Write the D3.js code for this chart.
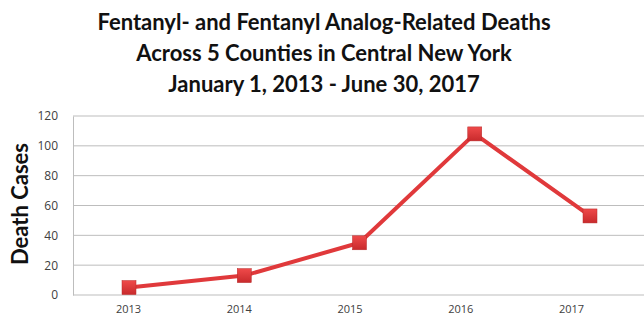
<!DOCTYPE html>
<html>
<head>
<meta charset="utf-8">
<script src="https://cdn.jsdelivr.net/npm/d3@7"></script>
<style>
  body { margin: 0; background: #fff; }
  svg { display: block; }
  .title { font-family: Lato, "Open Sans", sans-serif; font-weight: 700; fill: #111; }
  .tick text { font-family: "Open Sans", Lato, sans-serif; fill: #404040; }
</style>
</head>
<body>
<div id="chart"></div>
<script>
const years = ['2013', '2014', '2015', '2016', '2017'];
const deaths = [5, 13, 35, 108, 53];
const yTicks = [0, 20, 40, 60, 80, 100, 120];
const titleLines = [
    'Fentanyl- and Fentanyl Analog-Related Deaths',
    'Across 5 Counties in Central New York',
    'January 1, 2013 - June 30, 2017'
];

const width = 644;
const height = 317;

const svg = d3.select('#chart')
    .append('svg')
    .attr('width', width)
    .attr('height', height);

// marks and labels were stretched a bit differently in the source picture
const xScale = d3.scalePoint().domain(years).range([129, 590]);
const xLabel = d3.scalePoint().domain(years).range([128, 571]);
const yScale = d3.scaleLinear().domain([0, 120]).range([295, 116]);

// title
const titleY = [30, 61, 92];
svg.selectAll('text.title')
    .data(titleLines)
    .enter()
    .append('text')
    .attr('class', 'title')
    .attr('x', 324)
    .attr('y', (d, i) => titleY[i])
    .attr('text-anchor', 'middle')
    .style('font-size', '22px')
    .text(d => d);

// gridlines
svg.append('g')
    .selectAll('line')
    .data(yTicks)
    .enter()
    .append('line')
    .attr('x1', 73)
    .attr('x2', width)
    .attr('y1', d => yScale(d))
    .attr('y2', d => yScale(d))
    .attr('stroke', '#bdbdbd')
    .attr('stroke-width', 1);

// left axis
const yAxis = d3.axisLeft(yScale).tickValues(yTicks).tickSize(0).tickPadding(15);
const gy = svg.append('g')
    .attr('transform', 'translate(73,0)')
    .call(yAxis);
gy.select('.domain').attr('stroke', '#bdbdbd');
gy.selectAll('text').style('font-size', '12px');

// bottom axis labels
const xAxis = d3.axisBottom(xLabel).tickSize(0).tickPadding(10);
const gx = svg.append('g')
    .attr('transform', 'translate(0,295)')
    .call(xAxis);
gx.select('.domain').remove();
gx.selectAll('text').style('font-size', '11px');

// y title
svg.append('text')
    .attr('transform', 'translate(28,204) rotate(-90)')
    .attr('text-anchor', 'middle')
    .style('font-family', 'Lato, "Open Sans", sans-serif')
    .style('font-weight', 700)
    .style('font-size', '22px')
    .attr('fill', '#111')
    .text('Death Cases');

// line
const line = d3.line()
    .x((d, i) => xScale(years[i]))
    .y(d => yScale(d));

svg.append('path')
    .datum(deaths)
    .attr('d', line)
    .attr('fill', 'none')
    .attr('stroke', '#e0393b')
    .attr('stroke-width', 4)
    .attr('stroke-linejoin', 'round');

// markers
const defs = svg.append('defs');
const grad = defs.append('linearGradient')
    .attr('id', 'markerFill')
    .attr('x1', 0).attr('y1', 0).attr('x2', 0).attr('y2', 1);
grad.append('stop').attr('offset', '0%').attr('stop-color', '#ef4a4a');
grad.append('stop').attr('offset', '100%').attr('stop-color', '#c82a2c');

const size = 14;
svg.selectAll('rect.marker')
    .data(deaths)
    .enter()
    .append('rect')
    .attr('class', 'marker')
    .attr('x', (d, i) => xScale(years[i]) - size / 2)
    .attr('y', d => yScale(d) - size / 2)
    .attr('width', size)
    .attr('height', size)
    .attr('fill', 'url(#markerFill)')
    .attr('stroke', '#b82a2a')
    .attr('stroke-width', 0.5);
</script>
</body>
</html>
